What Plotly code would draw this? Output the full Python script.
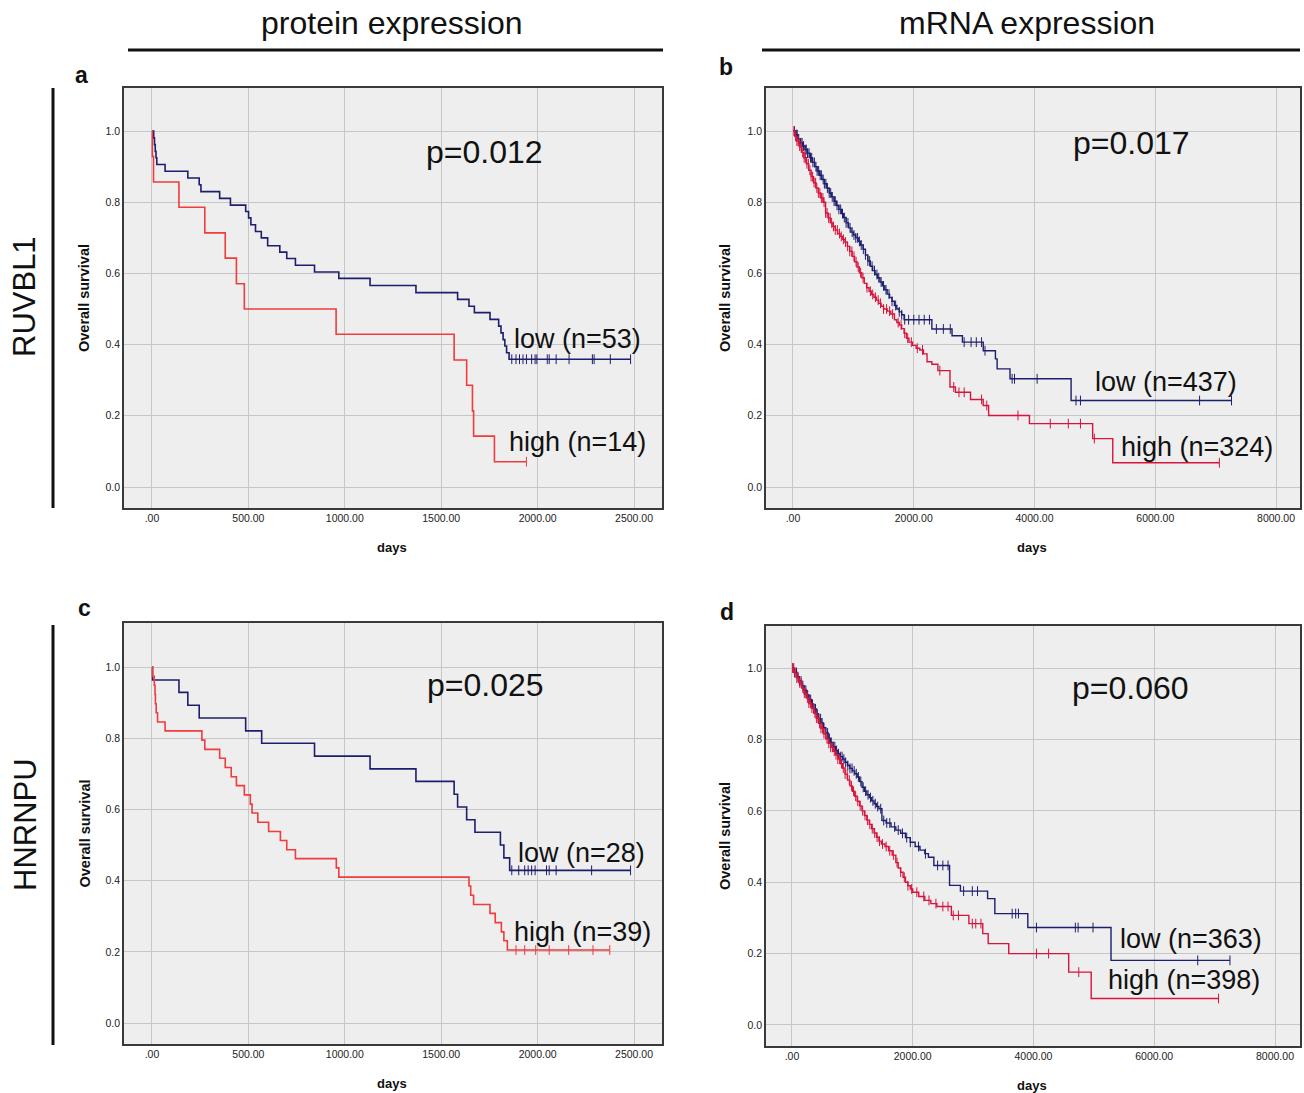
import numpy as np
import plotly.graph_objects as go

W, H = 1304, 1093
NAVY = "#1e1e6e"
RED_P = "#f03c3c"
RED_M = "#d7143c"
FONT = "Liberation Sans, Arial, sans-serif"

# ---------------- data ----------------
# panel a : RUVBL1 protein
a_low_t = [0, 9, 13, 17, 21, 25, 68, 186, 245, 254, 351, 407, 486, 501, 513, 537, 567, 600, 663, 699, 744,
           843, 969, 1131, 1369, 1585, 1644, 1672, 1753, 1798, 1810, 1821, 1830, 1839, 1852]
a_low_s = [1.0, 0.981, 0.962, 0.943, 0.925, 0.906, 0.887, 0.868, 0.849, 0.830, 0.811, 0.792, 0.774, 0.756,
           0.737, 0.718, 0.700, 0.678, 0.660, 0.642, 0.623, 0.604, 0.586, 0.566, 0.546, 0.527, 0.508, 0.490,
           0.471, 0.452, 0.433, 0.414, 0.396, 0.377, 0.359]
a_low_c = [1866, 1888, 1906, 1924, 1942, 1969, 1987, 1996, 2050, 2060, 2096, 2163, 2284, 2293, 2377, 2482]
a_high_t = [0, 2, 8, 140, 274, 380, 438, 479, 955, 1567, 1632, 1662, 1668, 1776]
a_high_s = [1.0, 0.929, 0.857, 0.786, 0.714, 0.643, 0.571, 0.500, 0.429, 0.357, 0.286, 0.214, 0.143, 0.071]
a_high_c = [1942]

# panel b : RUVBL1 mRNA
b_low_t = [0, 40, 80, 120, 160, 200, 240, 280, 320, 360, 400, 440, 480, 520, 560, 600, 640, 680, 720, 760,
           800, 840, 880, 920, 960, 1000, 1040, 1080, 1120, 1160, 1200, 1240, 1280, 1320, 1360, 1400, 1440,
           1480, 1520, 1560, 1600, 1640, 1680, 1720, 1760, 1800, 1840, 2300, 2634, 2806, 3151, 3353, 3381,
           3594, 4606]
b_low_s = [1.0, 0.990, 0.978, 0.967, 0.958, 0.948, 0.938, 0.925, 0.912, 0.900, 0.888, 0.876, 0.864, 0.852,
           0.840, 0.826, 0.815, 0.803, 0.791, 0.780, 0.768, 0.757, 0.742, 0.728, 0.716, 0.708, 0.700, 0.690,
           0.680, 0.668, 0.652, 0.635, 0.620, 0.608, 0.597, 0.588, 0.576, 0.565, 0.554, 0.542, 0.532, 0.522,
           0.510, 0.500, 0.492, 0.484, 0.470, 0.444, 0.425, 0.407, 0.383, 0.360, 0.332, 0.304, 0.243]
b_low_c = [25, 55, 70, 95, 130, 150, 175, 200, 220, 240, 265, 290, 310, 330, 355, 380, 400, 425, 450, 470,
           500, 520, 545, 570, 600, 625, 650, 680, 700, 730, 760, 790, 820, 850, 880, 910, 945, 980, 1010,
           1040, 1070, 1100, 1130, 1165, 1200, 1240, 1270, 1310, 1350, 1390, 1420, 1460, 1500, 1540, 1590,
           1640, 1700, 1760, 1800, 1850, 1915, 2001, 2087, 2174, 2260, 2375, 2490, 2605, 2835, 2950, 3036,
           3123, 3180, 3629, 3669, 4043, 4687, 4761, 6734, 7263]
b_high_t = [0, 30, 60, 100, 140, 180, 220, 260, 300, 340, 380, 420, 460, 500, 540, 580, 620, 660, 700, 740,
            780, 820, 860, 900, 940, 980, 1020, 1060, 1100, 1140, 1180, 1220, 1260, 1300, 1340, 1380, 1420,
            1460, 1500, 1560, 1620, 1680, 1720, 1760, 1800, 1840, 1880, 1920, 1980, 2040, 2100, 2160, 2220,
            2300, 2400, 2600, 2690, 2940, 3150, 3240, 3916, 4963, 5296]
b_high_s = [1.0, 0.985, 0.972, 0.958, 0.940, 0.925, 0.908, 0.890, 0.872, 0.855, 0.840, 0.826, 0.812, 0.800,
            0.770, 0.756, 0.742, 0.732, 0.722, 0.712, 0.704, 0.696, 0.688, 0.676, 0.662, 0.648, 0.633, 0.618,
            0.602, 0.588, 0.572, 0.560, 0.550, 0.541, 0.533, 0.525, 0.516, 0.508, 0.500, 0.494, 0.486, 0.470,
            0.462, 0.455, 0.445, 0.432, 0.418, 0.407, 0.398, 0.390, 0.385, 0.374, 0.352, 0.345, 0.327, 0.281,
            0.266, 0.246, 0.229, 0.201, 0.178, 0.136, 0.068]
b_high_c = [15, 40, 65, 85, 110, 135, 160, 185, 205, 230, 255, 280, 300, 325, 350, 375, 395, 420, 445, 470,
            495, 515, 540, 565, 590, 615, 640, 670, 700, 735, 770, 800, 835, 870, 905, 940, 975, 1010, 1045,
            1080, 1120, 1160, 1225, 1282, 1320, 1365, 1410, 1450, 1500, 1550, 1600, 1650, 1742, 1790, 1850,
            1900, 1960, 2059, 2145, 2432, 2662, 2749, 2835, 3123, 3209, 3726, 4261, 4560, 4761, 4991, 7062]

# panel c : HNRNPU protein
c_low_t = [0, 3, 140, 186, 245, 486, 569, 843, 1131, 1369, 1567, 1585, 1632, 1675, 1807, 1825, 1855]
c_low_s = [1.0, 0.964, 0.929, 0.893, 0.857, 0.821, 0.786, 0.750, 0.714, 0.679, 0.643, 0.607, 0.571, 0.536,
           0.500, 0.464, 0.429]
c_low_c = [1866, 1902, 1933, 1951, 1969, 1987, 2046, 2060, 2096, 2280, 2482]
c_high_t = [0, 3, 12, 16, 18, 22, 29, 68, 259, 274, 351, 380, 411, 438, 479, 510, 519, 549, 605, 666, 699,
            744, 956, 969, 1644, 1653, 1668, 1753, 1780, 1812, 1825, 1843]
c_high_s = [1.0, 0.974, 0.949, 0.923, 0.897, 0.872, 0.846, 0.821, 0.795, 0.769, 0.744, 0.718, 0.692, 0.667,
            0.641, 0.615, 0.590, 0.564, 0.538, 0.513, 0.487, 0.462, 0.436, 0.410, 0.385, 0.359, 0.333, 0.308,
            0.282, 0.256, 0.231, 0.205]
c_high_c = [1888, 1933, 1990, 2060, 2161, 2287, 2374]

# panel d : HNRNPU mRNA
d_low_t = [0, 40, 80, 120, 160, 200, 240, 280, 320, 360, 400, 440, 480, 520, 560, 600, 640, 680, 720, 760,
           800, 840, 880, 920, 960, 1000, 1040, 1080, 1120, 1160, 1200, 1240, 1280, 1320, 1360, 1400, 1440,
           1490, 1560, 1640, 1720, 1800, 1880, 1960, 2040, 2120, 2200, 2260, 2350, 2610, 2790, 3240, 3360,
           3906, 5284]
d_low_s = [1.0, 0.988, 0.976, 0.964, 0.951, 0.938, 0.925, 0.912, 0.899, 0.886, 0.872, 0.858, 0.846, 0.833,
           0.818, 0.803, 0.792, 0.780, 0.769, 0.760, 0.752, 0.745, 0.736, 0.727, 0.719, 0.712, 0.704, 0.695,
           0.682, 0.666, 0.655, 0.645, 0.637, 0.628, 0.620, 0.612, 0.606, 0.573, 0.566, 0.555, 0.546, 0.537,
           0.525, 0.512, 0.500, 0.490, 0.480, 0.470, 0.447, 0.391, 0.375, 0.354, 0.312, 0.273, 0.181]
d_low_c = [20, 45, 75, 100, 125, 150, 180, 205, 230, 260, 285, 310, 340, 365, 390, 420, 445, 475, 500, 530,
           560, 590, 620, 650, 680, 710, 740, 770, 800, 830, 860, 890, 925, 960, 995, 1030, 1065, 1100, 1140,
           1180, 1220, 1260, 1300, 1340, 1380, 1420, 1470, 1520, 1570, 1620, 1700, 1760, 1830, 1900, 1960,
           2096, 2211, 2412, 2499, 2585, 2843, 2987, 3073, 3647, 3705, 3751, 4049, 4693, 4739, 4986, 6720,
           7254]
d_high_t = [0, 40, 80, 120, 160, 200, 240, 280, 320, 360, 400, 440, 480, 520, 560, 600, 640, 680, 720, 760,
            800, 840, 880, 920, 960, 1000, 1040, 1080, 1120, 1160, 1200, 1240, 1280, 1320, 1360, 1400, 1440,
            1480, 1540, 1600, 1660, 1720, 1760, 1800, 1840, 1880, 1920, 1960, 2000, 2100, 2200, 2300, 2400,
            2640, 2930, 3160, 3250, 3590, 4583, 4956]
d_high_s = [1.0, 0.986, 0.972, 0.958, 0.944, 0.930, 0.916, 0.902, 0.888, 0.874, 0.860, 0.845, 0.831, 0.816,
            0.802, 0.789, 0.778, 0.767, 0.757, 0.745, 0.732, 0.720, 0.703, 0.686, 0.670, 0.655, 0.641, 0.627,
            0.614, 0.600, 0.587, 0.574, 0.562, 0.550, 0.538, 0.526, 0.515, 0.507, 0.500, 0.488, 0.476, 0.455,
            0.440, 0.428, 0.414, 0.400, 0.390, 0.381, 0.372, 0.360, 0.349, 0.340, 0.332, 0.307, 0.284, 0.256,
            0.228, 0.200, 0.148, 0.074]
d_high_c = [10, 30, 55, 80, 105, 130, 155, 180, 205, 230, 255, 280, 305, 330, 355, 380, 405, 430, 455, 480,
            505, 530, 555, 580, 610, 640, 670, 700, 730, 760, 790, 820, 850, 880, 915, 950, 985, 1020, 1055,
            1090, 1130, 1170, 1210, 1250, 1290, 1330, 1370, 1410, 1450, 1500, 1560, 1620, 1680, 1740, 1800,
            1860, 1920, 1982, 2068, 2183, 2269, 2384, 2499, 2585, 2671, 2757, 2987, 3044, 3130, 4049, 4250,
            4750, 7065]

prot_ticks = [0, 500, 1000, 1500, 2000, 2500]
prot_ticktext = [".00", "500.00", "1000.00", "1500.00", "2000.00", "2500.00"]
mrna_ticks = [0, 2000, 4000, 6000, 8000]
mrna_ticktext = [".00", "2000.00", "4000.00", "6000.00", "8000.00"]
y_ticks = [0.0, 0.2, 0.4, 0.6, 0.8, 1.0]

p_values = ["p=0.012", "p=0.017", "p=0.025", "p=0.060"]
low_labels = ["low (n=53)", "low (n=437)", "low (n=28)", "low (n=363)"]
high_labels = ["high (n=14)", "high (n=324)", "high (n=39)", "high (n=398)"]
panel_letters = ["a", "b", "c", "d"]
col_titles = ["protein expression", "mRNA expression"]
row_titles = ["RUVBL1", "HNRNPU"]

# ---------------- figure ----------------
fig = go.Figure()


def km(times, surv, cens, color, width, idx):
    t = np.array(times, float)
    s = np.array(surv, float)
    end = max(cens)
    xs = list(t) + [end]
    ys = list(s) + [s[-1]]
    suffix = "" if idx == 1 else str(idx)
    fig.add_trace(go.Scatter(x=xs, y=ys, mode="lines", line=dict(color=color, width=width, shape="hv"),
                             xaxis="x" + suffix, yaxis="y" + suffix, showlegend=False, hoverinfo="skip"))
    cy = s[np.searchsorted(t, np.array(cens, float), side="right") - 1]
    fig.add_trace(go.Scatter(x=cens, y=cy, mode="markers",
                             marker=dict(symbol="line-ns", size=7, line=dict(color=color, width=1)),
                             xaxis="x" + suffix, yaxis="y" + suffix, showlegend=False, hoverinfo="skip"))


km(a_low_t, a_low_s, a_low_c, NAVY, 1.6, 1)
km(a_high_t, a_high_s, a_high_c, RED_P, 1.6, 1)
km(b_low_t, b_low_s, b_low_c, NAVY, 1.4, 2)
km(b_high_t, b_high_s, b_high_c, RED_M, 1.4, 2)
km(c_low_t, c_low_s, c_low_c, NAVY, 1.6, 3)
km(c_high_t, c_high_s, c_high_c, RED_P, 1.6, 3)
km(d_low_t, d_low_s, d_low_c, NAVY, 1.4, 4)
km(d_high_t, d_high_s, d_high_c, RED_M, 1.4, 4)


def pxx(x):
    return x / W


def pxy(y):
    return 1 - y / H


# frames (pixels): left, right, top, bottom
frames = [(124, 662, 88, 508), (766, 1300, 88, 508), (124, 662, 623, 1044), (766, 1300, 626, 1046)]
xranges = [[-145, 2645], [-447, 8397], [-145, 2645], [-430, 8414]]
yranges = [[-0.059, 1.121], [-0.059, 1.121], [-0.059, 1.124], [-0.059, 1.118]]

axis_common = dict(showgrid=True, gridcolor="#c6c6c6", gridwidth=1, zeroline=False, showline=True,
                   mirror=True, linecolor="#3a3a3a", linewidth=1.5, ticks="",
                   tickfont=dict(family=FONT, size=10.5, color="#222222"), fixedrange=True)

layout = dict(width=W, height=H, margin=dict(l=0, r=0, t=0, b=0), paper_bgcolor="white",
              plot_bgcolor="#eeeeee", showlegend=False)
for i, (l, r, t, b) in enumerate(frames):
    suffix = "" if i == 0 else str(i + 1)
    is_prot = i in (0, 2)
    layout["xaxis" + suffix] = dict(axis_common, domain=[pxx(l), pxx(r)], range=xranges[i],
                                    anchor="y" + suffix,
                                    tickvals=prot_ticks if is_prot else mrna_ticks,
                                    ticktext=prot_ticktext if is_prot else mrna_ticktext)
    layout["yaxis" + suffix] = dict(axis_common, domain=[pxy(b), pxy(t)], range=yranges[i],
                                    anchor="x" + suffix, tickvals=y_ticks, tickformat=".1f")
fig.update_layout(**layout)

ann = []
shapes = []
# column headers and lines
for title, cx, x0, x1 in [(col_titles[0], 391, 128, 663), (col_titles[1], 1027, 762, 1300)]:
    ann.append(dict(x=pxx(cx), y=pxy(23), xref="paper", yref="paper", text=title, showarrow=False,
                    font=dict(family=FONT, size=32, color="#111111"), xanchor="center", yanchor="middle"))
    shapes.append(dict(type="line", xref="paper", yref="paper", x0=pxx(x0), x1=pxx(x1), y0=pxy(50), y1=pxy(50),
                       line=dict(color="#111111", width=3)))
# row titles and vertical lines
for title, cy, y0, y1 in [(row_titles[0], 297, 88, 508), (row_titles[1], 825, 625, 1045)]:
    ann.append(dict(x=pxx(25), y=pxy(cy), xref="paper", yref="paper", text=title, showarrow=False, textangle=-90,
                    font=dict(family=FONT, size=31, color="#111111"), xanchor="center", yanchor="middle"))
    shapes.append(dict(type="line", xref="paper", yref="paper", x0=pxx(53), x1=pxx(53), y0=pxy(y0), y1=pxy(y1),
                       line=dict(color="#111111", width=3)))
# panel letters
for letter, (lx, ly) in zip(panel_letters, [(81, 75), (726, 67), (84, 608), (727, 612)]):
    ann.append(dict(x=pxx(lx), y=pxy(ly), xref="paper", yref="paper", text="<b>%s</b>" % letter, showarrow=False,
                    font=dict(family=FONT, size=23, color="#111111"), xanchor="center", yanchor="middle"))
# axis titles
for i, (l, r, t, b) in enumerate(frames):
    ann.append(dict(x=pxx(84 if i in (0, 2) else 725), y=pxy((t + b) / 2), xref="paper", yref="paper",
                    text="<b>Overall survival</b>", textangle=-90, showarrow=False,
                    font=dict(family=FONT, size=14.5, color="#111111"), xanchor="center", yanchor="middle"))
    ann.append(dict(x=pxx((l + r) / 2 - 1), y=pxy(b + 39), xref="paper", yref="paper", text="<b>days</b>",
                    showarrow=False, font=dict(family=FONT, size=13, color="#111111"),
                    xanchor="center", yanchor="middle"))

# in-plot text (data coordinates)
p_pos = [(1722, 0.941), (5614, 0.966), (1732, 0.949), (5614, 0.944)]
low_pos = [(1866, 0.416), (4965, 0.295), (1888, 0.478), (5400, 0.241)]
high_pos = [(1840, 0.126), (5400, 0.112), (1866, 0.256), (5200, 0.126)]
for i in range(4):
    suffix = "" if i == 0 else str(i + 1)
    ann.append(dict(x=p_pos[i][0], y=p_pos[i][1], xref="x" + suffix, yref="y" + suffix, text=p_values[i],
                    showarrow=False, font=dict(family=FONT, size=32, color="#111111"),
                    xanchor="center", yanchor="middle"))
    ann.append(dict(x=low_pos[i][0], y=low_pos[i][1], xref="x" + suffix, yref="y" + suffix, text=low_labels[i],
                    showarrow=False, font=dict(family=FONT, size=27, color="#111111"),
                    xanchor="left", yanchor="middle"))
    ann.append(dict(x=high_pos[i][0], y=high_pos[i][1], xref="x" + suffix, yref="y" + suffix,
                    text=high_labels[i], showarrow=False, font=dict(family=FONT, size=27, color="#111111"),
                    xanchor="left", yanchor="middle"))

fig.update_layout(annotations=ann, shapes=shapes)
fig.write_html("out.html", config={"displayModeBar": False},
               post_script="document.body.style.margin='0';document.body.style.padding='0';")
